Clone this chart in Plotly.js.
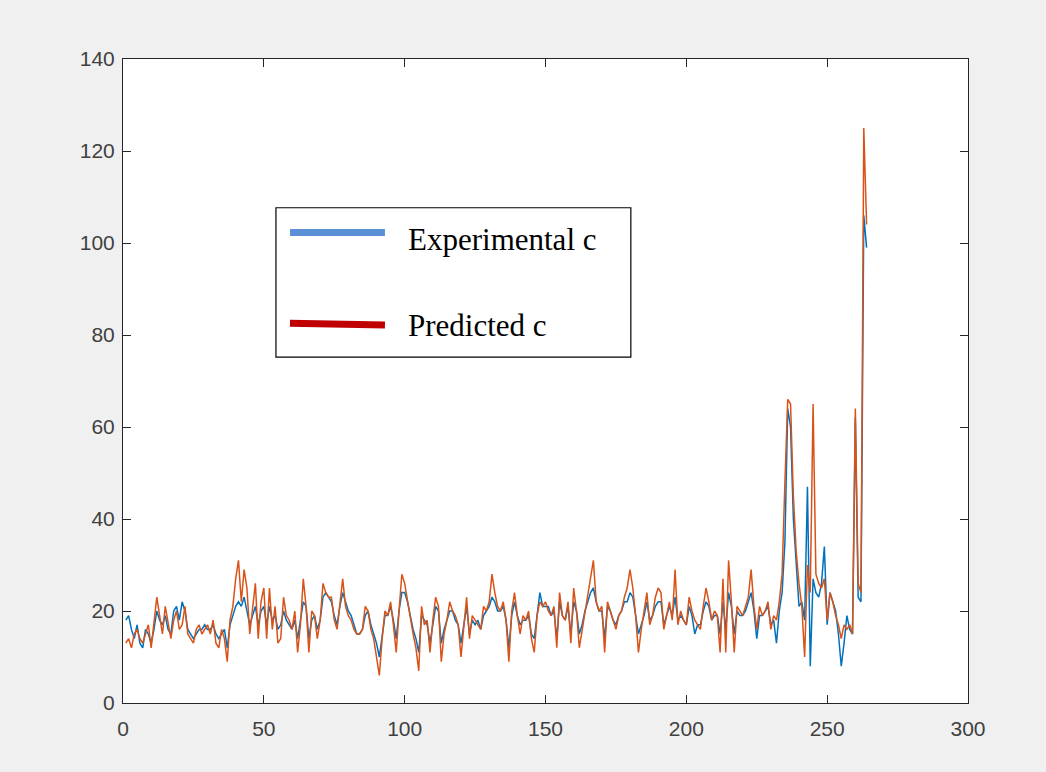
<!DOCTYPE html>
<html>
<head>
<meta charset="utf-8">
<script src="https://cdn.plot.ly/plotly-3.0.1.min.js"></script>
<style>
  html, body { margin: 0; padding: 0; background: #f0f0f0; }
  #chart { width: 1046px; height: 772px; }
</style>
</head>
<body>
<div id="chart"></div>
<script>
// Sample index (1..264)
const sampleIndex = Array.from({length: 264}, (_, i) => i + 1);

// Experimental c (blue)
const experimentalC = [
  18, 19, 16, 14, 17, 13, 12, 16, 15, 13,
  16, 20, 18, 17, 19, 16, 15, 20, 21, 18,
  22, 20, 16, 15, 14, 15, 16, 16, 17, 16,
  16, 17, 15, 14, 15, 16, 12, 17, 19, 21,
  22, 21, 23, 20, 17, 19, 21, 17, 20, 21,
  17, 21, 18, 19, 16, 17, 20, 18, 17, 16,
  18, 14, 18, 22, 21, 14, 18, 19, 16, 18,
  23, 24, 23, 22, 19, 17, 21, 24, 22, 20,
  19, 17, 15, 15, 16, 19, 20, 17, 15, 13,
  10, 15, 19, 19, 21, 18, 14, 20, 24, 24,
  22, 19, 16, 14, 11, 19, 18, 17, 13, 17,
  21, 20, 13, 16, 18, 20, 20, 18, 17, 13,
  17, 21, 15, 18, 17, 18, 16, 19, 20, 21,
  23, 22, 20, 20, 21, 18, 12, 19, 22, 19,
  17, 18, 18, 19, 15, 14, 19, 24, 21, 21,
  21, 19, 20, 14, 22, 19, 18, 21, 15, 22,
  20, 15, 17, 20, 22, 24, 25, 22, 20, 20,
  14, 21, 20, 18, 17, 19, 20, 22, 22, 24,
  23, 19, 15, 17, 19, 22, 18, 19, 21, 22,
  22, 17, 19, 21, 19, 23, 18, 19, 18, 17,
  21, 19, 15, 17, 17, 20, 22, 21, 18, 19,
  19, 15, 22, 16, 24, 21, 15, 20, 19, 19,
  20, 22, 24, 20, 14, 19, 19, 20, 21, 17,
  18, 13, 20, 24, 35, 64, 60, 40, 30, 21,
  22, 18, 47, 8, 27, 24, 23, 26, 34, 17,
  24, 22, 20, 15, 8, 13, 19, 16, 15, 62,
  23, 22, 106, 99
];

// Predicted c (orange)
const predictedC = [
  13, 14, 12, 15, 16, 14, 13, 15, 17, 12,
  18, 23, 19, 15, 21, 17, 14, 18, 20, 16,
  17, 21, 15, 14, 13, 16, 17, 15, 16, 17,
  15, 18, 13, 12, 16, 14, 9, 18, 21, 27,
  31, 22, 29, 25, 15, 20, 26, 14, 22, 25,
  14, 25, 16, 21, 13, 14, 23, 19, 18, 16,
  20, 11, 17, 27, 21, 11, 20, 19, 14, 18,
  26, 24, 23, 23, 18, 16, 22, 27, 21, 19,
  18, 16, 15, 15, 16, 21, 20, 16, 14, 10,
  6, 14, 20, 19, 22, 17, 11, 20, 28, 26,
  22, 19, 15, 12, 7, 21, 17, 18, 11, 18,
  23, 21, 9, 15, 18, 22, 20, 19, 17, 10,
  17, 23, 14, 19, 18, 17, 16, 21, 20, 22,
  28, 24, 21, 20, 22, 18, 9, 20, 24, 19,
  15, 19, 18, 20, 14, 11, 19, 22, 21, 22,
  20, 19, 21, 12, 24, 19, 18, 22, 13, 25,
  20, 12, 16, 20, 23, 28, 31, 22, 20, 21,
  11, 22, 20, 18, 16, 19, 20, 23, 25, 29,
  25, 19, 11, 16, 20, 24, 17, 19, 23, 25,
  24, 16, 19, 22, 18, 29, 17, 20, 18, 17,
  23, 20, 18, 17, 16, 21, 25, 22, 18, 20,
  19, 11, 27, 11, 31, 22, 11, 21, 20, 19,
  21, 23, 29, 21, 16, 21, 19, 20, 22, 16,
  19, 18, 22, 28, 48, 66, 65, 45, 33, 26,
  21, 10, 30, 24, 65, 28, 26, 25, 27, 18,
  24, 22, 19, 17, 14, 17, 16, 17, 15, 64,
  26, 24, 125, 104
];

const seriesNames = ['Experimental c', 'Predicted c'];
const xTickVals = [0, 50, 100, 150, 200, 250, 300];
const yTickVals = [0, 20, 40, 60, 80, 100, 120, 140];

const traces = [
  { x: sampleIndex, y: experimentalC, name: seriesNames[0], type: 'scatter', mode: 'lines',
    line: { color: '#0072BD', width: 1.5 } },
  { x: sampleIndex, y: predictedC, name: seriesNames[1], type: 'scatter', mode: 'lines',
    line: { color: '#D95319', width: 1.5 } }
];

const tickFont = { family: 'Liberation Sans, Arial, sans-serif', size: 21, color: '#404040' };
const axisCommon = {
  showgrid: false, zeroline: false, showline: true, linecolor: '#262626', linewidth: 1,
  mirror: 'ticks', ticks: 'inside', ticklen: 8, tickcolor: '#262626', tickwidth: 1,
  tickfont: tickFont, tickmode: 'array'
};

const legendFont = { family: 'Liberation Serif, Times New Roman, serif', size: 31, color: '#000000' };

const layout = {
  width: 1046, height: 772,
  paper_bgcolor: '#f0f0f0', plot_bgcolor: '#ffffff',
  margin: { l: 123, r: 78, t: 59, b: 69, pad: 0 },
  showlegend: false,
  xaxis: Object.assign({}, axisCommon, { range: [0, 300], tickvals: xTickVals, ticklabelstandoff: 7 }),
  yaxis: Object.assign({}, axisCommon, { range: [0, 140], tickvals: yTickVals, ticklabelstandoff: 3 }),
  shapes: [
    { type: 'rect', xref: 'paper', yref: 'paper', x0: 0.181, x1: 0.601, y0: 0.537, y1: 0.769,
      line: { color: '#000000', width: 1.2 }, fillcolor: '#ffffff' },
    { type: 'line', xref: 'paper', yref: 'paper', x0: 0.1976, x1: 0.310, y0: 0.7306, y1: 0.7306,
      line: { color: '#5B8FD6', width: 7 } },
    { type: 'line', xref: 'paper', yref: 'paper', x0: 0.1976, x1: 0.310, y0: 0.5895, y1: 0.5870,
      line: { color: '#C00000', width: 7 } }
  ],
  annotations: [
    { xref: 'paper', yref: 'paper', x: 0.335, y: 0.7190, xanchor: 'left', yanchor: 'middle',
      text: seriesNames[0], showarrow: false, font: legendFont },
    { xref: 'paper', yref: 'paper', x: 0.335, y: 0.5855, xanchor: 'left', yanchor: 'middle',
      text: seriesNames[1], showarrow: false, font: legendFont }
  ]
};

Plotly.newPlot('chart', traces, layout, { displayModeBar: false, staticPlot: true });
</script>
</body>
</html>
